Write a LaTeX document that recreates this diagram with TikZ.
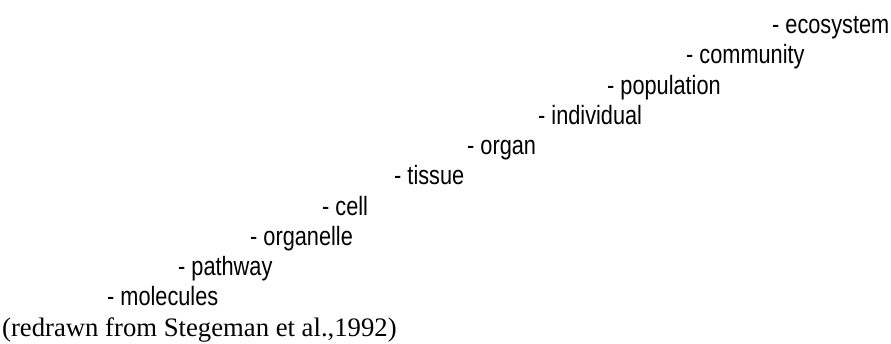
\documentclass[tikz,border=0pt]{standalone}
\usepackage{fontspec}
\setmainfont{Liberation Serif}
\newfontfamily\narrowsans[FakeStretch=0.82]{Liberation Sans}
\begin{document}
\begin{tikzpicture}[x=1pt,y=-1pt,
  level/.style={anchor=base west,inner sep=0pt,font=\narrowsans\fontsize{26.5}{30}\selectfont},
  cite/.style={anchor=base west,inner sep=0pt,font=\rmfamily\fontsize{26.7}{30}\selectfont}]
\useasboundingbox (0,0) rectangle (891,343);
\node[level] (eco) at (772,33.5) {- ecosystem};
\node[level] (com) at (686,63.75) {- community};
\node[level] (pop) at (607,94) {- population};
\node[level] (ind) at (538,124.25) {- individual};
\node[level] (org) at (467,154.5) {- organ};
\node[level] (tis) at (394,184.75) {- tissue};
\node[level] (cel) at (322,215) {- cell};
\node[level] (orl) at (250,245.25) {- organelle};
\node[level] (pat) at (178,275.5) {- pathway};
\node[level] (mol) at (107,305.75) {- molecules};
\node[cite] (src) at (2,336) {(redrawn from Stegeman et al.,1992)};
\end{tikzpicture}
\end{document}
